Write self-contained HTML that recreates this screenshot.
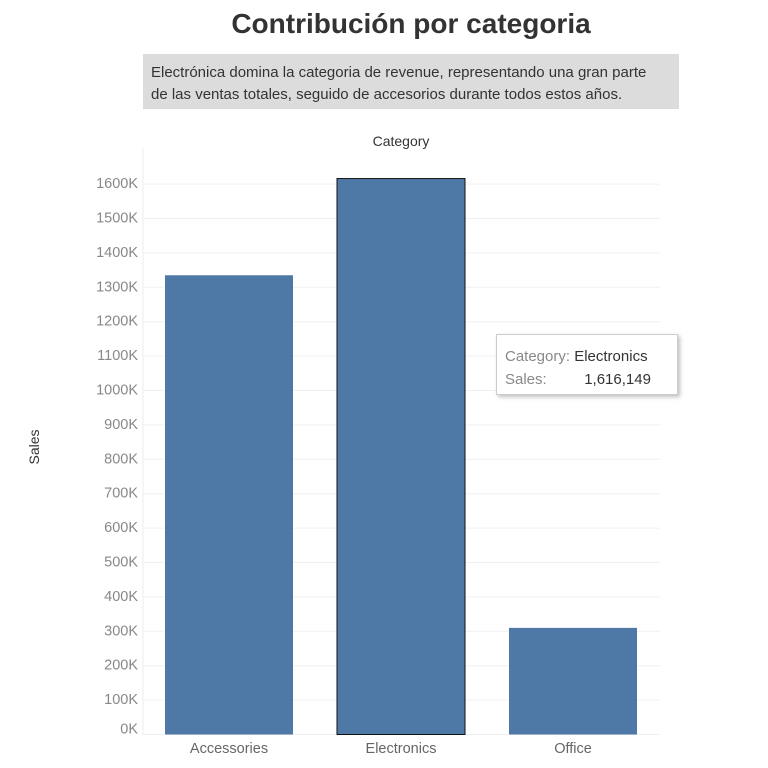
<!DOCTYPE html>
<html><head><meta charset="utf-8"><style>
body{margin:0;width:768px;height:768px;background:#fff;font-family:"Liberation Sans",sans-serif;overflow:hidden;position:relative}
#title{position:absolute;left:0;width:822px;top:8px;text-align:center;font-size:28px;font-weight:bold;color:#333}
#sub{position:absolute;left:143px;top:54px;width:528px;background:#dcdcdc;padding:8px 0 0 8px;height:47px;font-size:15px;line-height:22px;color:#333;box-sizing:content-box}
#tip{position:absolute;left:496px;top:334px;width:182px;height:61px;background:#fff;border:1px solid #ccc;box-shadow:2px 2px 4px rgba(0,0,0,.25);font-size:15px;line-height:23px;padding:10px 0 0 8px;box-sizing:border-box;color:#888}
#tip b{font-weight:normal;color:#333}
</style></head><body>
<div id="title">Contribución por categoria</div>
<div id="sub">Electrónica domina la categoria de revenue, representando una gran parte<br>de las ventas totales, seguido de accesorios durante todos estos años.</div>
<svg id="chart" width="768" height="768" style="position:absolute;left:0;top:0"></svg>
<div id="tip">Category: <b>Electronics</b><br>Sales:&nbsp;&nbsp;&nbsp;&nbsp;&nbsp;&nbsp;&nbsp;&nbsp;&nbsp;<b>1,616,149</b></div>
<script>
const categories=["Accessories","Electronics","Office"];
const sales=[1335000,1616149,310000];
const ticks=[0,100000,200000,300000,400000,500000,600000,700000,800000,900000,1000000,1100000,1200000,1300000,1400000,1500000,1600000];
const NS="http://www.w3.org/2000/svg";
const svg=document.getElementById('chart');
const y=v=>734.5-v/100000*34.4;
const x=i=>165+i*172;
function mk(t,a){const e=document.createElementNS(NS,t);for(const k in a)e.setAttribute(k,a[k]);svg.appendChild(e);return e;}
ticks.forEach(t=>{
 const l=mk('line',{x1:143,x2:660,y1:y(t),y2:y(t),stroke:'#f0f0f0'});
 
 
 const tx=mk('text',{x:138,y:(t===0?y(t)-5:y(t))+4,'text-anchor':'end','font-size':14.5,fill:'#888','font-family':'Liberation Sans'});
 tx.textContent=(t/1000)+'K';
 
 
});
const ax=mk('line',{x1:143,x2:143,y1:148,y2:735,stroke:'#eee'});


categories.forEach((c,i)=>{
 const r=mk('rect',{x:x(i),y:y(sales[i]),width:128,height:734.5-y(sales[i]),fill:'#4e79a7',stroke:i===1?'#111':'none','stroke-width':1});
 
 
 const t=mk('text',{x:x(i)+64,y:753,'text-anchor':'middle','font-size':14.5,fill:'#666','font-family':'Liberation Sans'});
 t.textContent=c;
 
 
});
const h=mk('text',{x:401,y:146,'text-anchor':'middle','font-size':14,fill:'#333','font-family':'Liberation Sans'});
h.textContent='Category';


const yt=mk('text',{x:39,y:447,'text-anchor':'middle','font-size':14,fill:'#333','font-family':'Liberation Sans',transform:'rotate(-90 39 447)'});
yt.textContent='Sales';


</script>
</body></html>
